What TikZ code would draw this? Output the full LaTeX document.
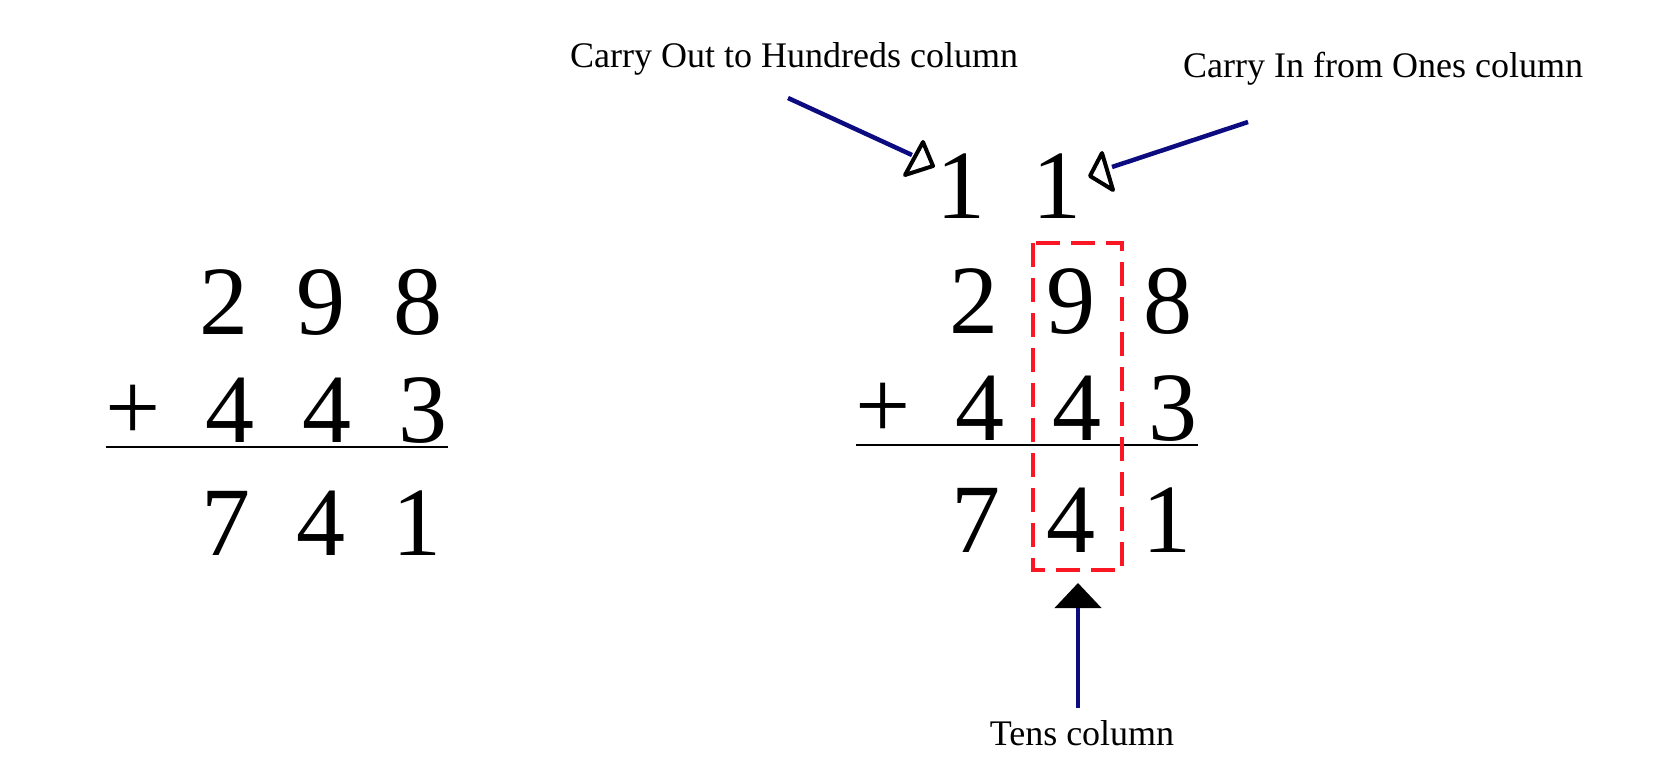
\documentclass[tikz,border=0pt]{standalone}
\usepackage{fontspec}
\setmainfont{Liberation Serif}
\usetikzlibrary{arrows.meta}
\definecolor{navyline}{RGB}{12,12,128}
\definecolor{boxred}{RGB}{250,22,34}
\tikzset{
  dig/.style={font=\fontsize{98}{100}\selectfont, inner sep=0pt, anchor=base},
  lbl/.style={font=\fontsize{36}{40}\selectfont, inner sep=0pt},
  conn/.style={draw=navyline, line width=4.5pt},
  openhead/.style={draw=black, fill=white, line width=4pt, line join=round},
  sumline/.style={draw=black, line width=2pt},
  tensbox/.style={draw=boxred, line width=4pt, dash pattern=on 24pt off 11pt}
}
\begin{document}
\begin{tikzpicture}[x=1pt,y=-1pt]
\useasboundingbox (0,0) rectangle (1658,782);
\fill[white] (0,0) rectangle (1658,782);

% ---- left sum ----
\node[dig] (l2) at (224,334) {2};
\node[dig] (l9) at (321,334) {9};
\node[dig] (l8) at (418,334) {8};
\node[dig] (lplus) at (133,440) {+};
\node[dig] (l4a) at (230,442) {4};
\node[dig] (l4b) at (327,442) {4};
\node[dig] (l3) at (423,442) {3};
\node[dig] (l7) at (226,555) {7};
\node[dig] (l4c) at (321,555) {4};
\node[dig] (l1) at (417,555) {1};
\draw[sumline] (106,446.5) -- (448,446.5);

% ---- right sum ----
\node[dig] (c1) at (961,218) {1};
\node[dig] (c2) at (1057,218) {1};
\node[dig] (r2) at (974,333) {2};
\node[dig] (r9) at (1071,333) {9};
\node[dig] (r8) at (1168,333) {8};
\node[dig] (rplus) at (883,438) {+};
\node[dig] (r4a) at (980,440) {4};
\node[dig] (r4b) at (1077,440) {4};
\node[dig] (r3) at (1173,440) {3};
\node[dig] (r7) at (976,552) {7};
\node[dig] (r4c) at (1071,552) {4};
\node[dig] (r1) at (1167,552) {1};
\draw[sumline] (856,445) -- (1198,445);

% tens column box
\draw[tensbox] (1033,243) rectangle (1122,570);

% labels
\node[lbl, anchor=base west] (lout) at (570,67) {Carry Out to Hundreds column};
\node[lbl, anchor=base west] (lin) at (1183,77) {Carry In from Ones column};
\node[lbl, anchor=base] (ltens) at (1082,745) {Tens column};

% carry out arrow
\coordinate (coS) at (788,98);
\coordinate (coE) at (912,155);
\draw[conn] (coS) -- (coE);
\draw[openhead] (923,142) -- (933,166) -- (905,175) -- cycle;

% carry in arrow
\coordinate (ciS) at (1248,122);
\coordinate (ciE) at (1112,167);
\draw[conn] (ciS) -- (ciE);
\draw[openhead] (1102,153) -- (1090,176) -- (1113,190) -- cycle;

% tens arrow
\coordinate (tS) at (1078,708);
\coordinate (tE) at (1078,583);
\draw[conn, -{Triangle[width=46pt,length=25pt]}, arrows={[color=black]}] (tS) -- (tE);
\end{tikzpicture}
\end{document}
